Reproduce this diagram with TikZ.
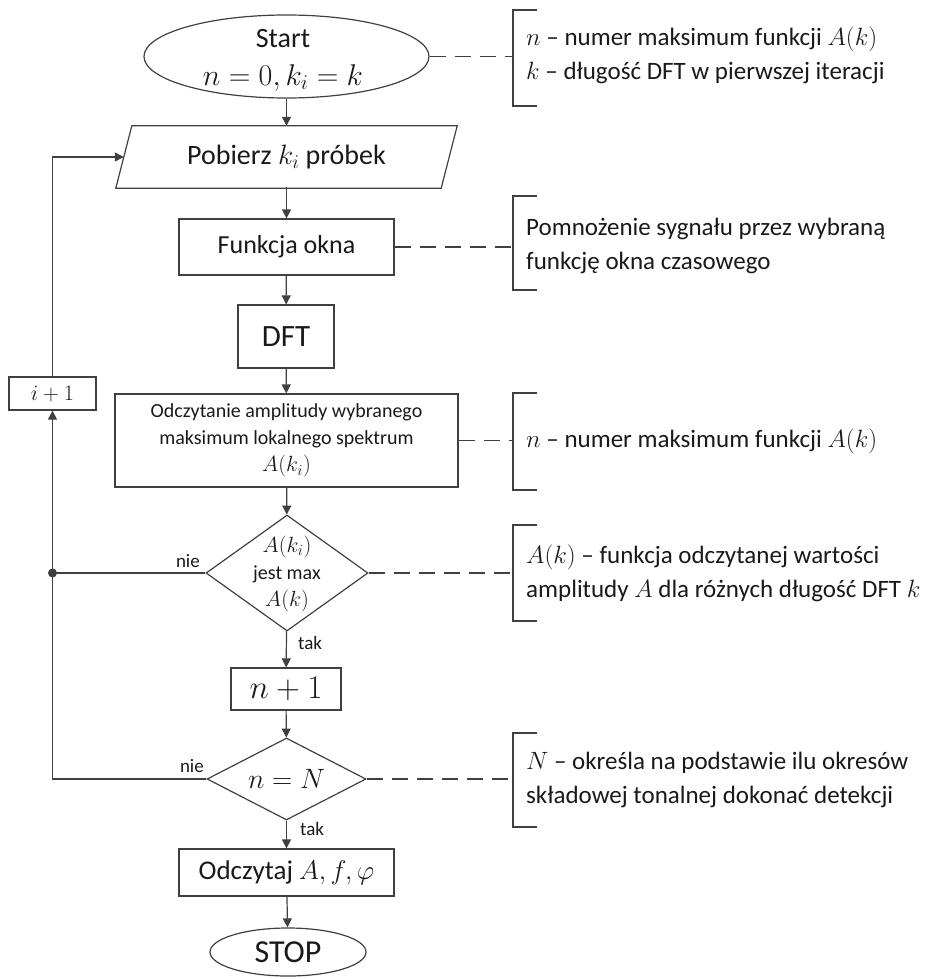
\RequirePackage{fix-cm}
\documentclass[tikz,border=0pt]{standalone}
\usepackage{fontspec}
\setmainfont{Carlito}
\usetikzlibrary{arrows.meta,shapes.geometric}
\definecolor{lc}{RGB}{64,64,64}
\definecolor{tc}{RGB}{25,25,25}
\newcommand{\fs}[2]{\fontsize{#1}{#2}\selectfont}
\begin{document}
\begin{tikzpicture}[x=1pt,y=-1pt,
  line/.style={draw=lc, line width=1.2pt},
  flow/.style={line, -{Triangle[length=9pt,width=9pt]}},
  note/.style={line, dash pattern=on 16pt off 9pt},
  box/.style={draw=lc, line width=1.2pt, rectangle, inner sep=0, text=tc, align=center},
  txt/.style={inner sep=0, text=tc, align=center},
  ann/.style={inner sep=0, text=tc, align=left, anchor=west, font=\fs{25}{34}},
  lab/.style={inner sep=0, text=tc, font=\fs{19}{22}},
  term/.style={ellipse, draw=lc, line width=1.2pt, inner sep=0},
  cond/.style={diamond, draw=lc, line width=1.2pt, inner sep=0}]
\useasboundingbox (0,0) rectangle (952,979);

% main flow
\node[term, minimum width=285, minimum height=83] (start) at (286.5,56.5) {};
\node[txt, font=\fs{28}{38}] (starttxt) at (283,60) {Start\\{\fs{30}{38}$n=0, k_i=k$}};

\node[inner sep=0, minimum width=325, minimum height=62, text=tc, font=\fs{28}{34}] (pobierz) at (286.5,157) {Pobierz $k_i$ próbek};
\draw[line] ([xshift=8pt]pobierz.north west) -- ([xshift=8pt]pobierz.north east)
  -- ([xshift=-8pt]pobierz.south east) -- ([xshift=-8pt]pobierz.south west) -- cycle;

\node[box, minimum width=215, minimum height=56, font=\fs{26}{32}] (okno) at (286.5,247) {Funkcja okna};
\node[box, minimum width=96, minimum height=63, font=\fs{31}{36}] (dft) at (286,336.5) {DFT};
\node[box, minimum width=343, minimum height=93, font=\fs{20}{27}] (odcz) at (286.5,440.5)
  {Odczytanie amplitudy wybranego\\maksimum lokalnego spektrum\\{\fs{22}{27}$A(k_i)$}};

\node[cond, minimum width=162, minimum height=116] (dec1) at (287,573) {};
\node[txt, font=\fs{20}{27}] (dec1txt) at (287,574) {{\fs{22}{27}$A(k_i)$}\\jest max\\{\fs{22}{27}$A(k)$}};

\node[box, minimum width=110, minimum height=42, font=\fs{33}{36}] (nplus) at (286,689) {$n+1$};

\node[cond, minimum width=159, minimum height=82] (dec2) at (286.5,779) {};
\node[txt, font=\fs{28}{34}] (dec2txt) at (286.5,779) {$n=N$};

\node[box, minimum width=215, minimum height=47, font=\fs{27}{32}] (odczytaj) at (286.5,872.5) {Odczytaj $A, f, \varphi$};
\node[term, minimum width=156, minimum height=48, text=tc, font=\fs{32}{36}] (stop) at (288,952) {STOP};

\node[box, minimum width=87, minimum height=33, font=\fs{22}{26}] (iplus) at (52.5,393.5) {$i+1$};

\draw[flow] (start) -- (pobierz);
\draw[flow] ([yshift=1pt]pobierz.south) -- (okno);
\draw[flow] (okno) -- (dft);
\draw[flow] (dft) -- (odcz);
\draw[flow] (odcz) -- (dec1);
\draw[flow] (dec1) -- (nplus);
\draw[flow] (nplus) -- (dec2);
\draw[flow] (dec2) -- (odczytaj);
\draw[flow] (odczytaj) -- (stop);

% loop back
\coordinate (join) at (dec1.west -| iplus);
\draw[line] (dec1.west) -- (join);
\fill[lc] (join) circle (4.5pt);
\draw[flow] (dec2.west) -- (dec2.west -| iplus) -- (iplus.south);
\draw[flow] (iplus.north) |- (pobierz.west);

\node[lab, anchor=base east] (nie1) at (200,567) {nie};
\node[lab, anchor=base east] (nie2) at (204,772) {nie};
\node[lab, anchor=base west] (tak1) at (298,649) {tak};
\node[lab, anchor=base west] (tak2) at (300,835) {tak};

% annotations
\foreach \n/\ya/\yb in {b1/10/106, b2/196/290, b3/393/490, b4/525/621, b5/733/827}{
  \draw[line] (537,\ya) -- (513,\ya) -- (513,\yb) -- (537,\yb);
}
\coordinate (c1) at (513,56.5);
\coordinate (c2) at (513,247);
\coordinate (c3) at (513,440.5);
\coordinate (c4) at (513,573);
\coordinate (c5) at (513,779);
\draw[note] (start.east) -- (c1);
\draw[note] (okno.east) -- (c2);
\draw[note] (odcz.east) -- (c3);
\draw[note] (dec1.east) -- (c4);
\draw[note] (dec2.east) -- (c5);

\node[ann] (a1) at (526,55) {$n$ – numer maksimum funkcji $A(k)$\\$k$ – długość DFT w pierwszej iteracji};
\node[ann] (a2) at (526,246) {Pomnożenie sygnału przez wybraną\\funkcję okna czasowego};
\node[ann] (a3) at (526,441) {$n$ – numer maksimum funkcji $A(k)$};
\node[ann] (a4) at (526,573) {$A(k)$ – funkcja odczytanej wartości\\amplitudy $A$ dla różnych długość DFT $k$};
\node[ann] (a5) at (526,780) {$N$ – określa na podstawie ilu okresów\\składowej tonalnej dokonać detekcji};
\end{tikzpicture}
\end{document}
